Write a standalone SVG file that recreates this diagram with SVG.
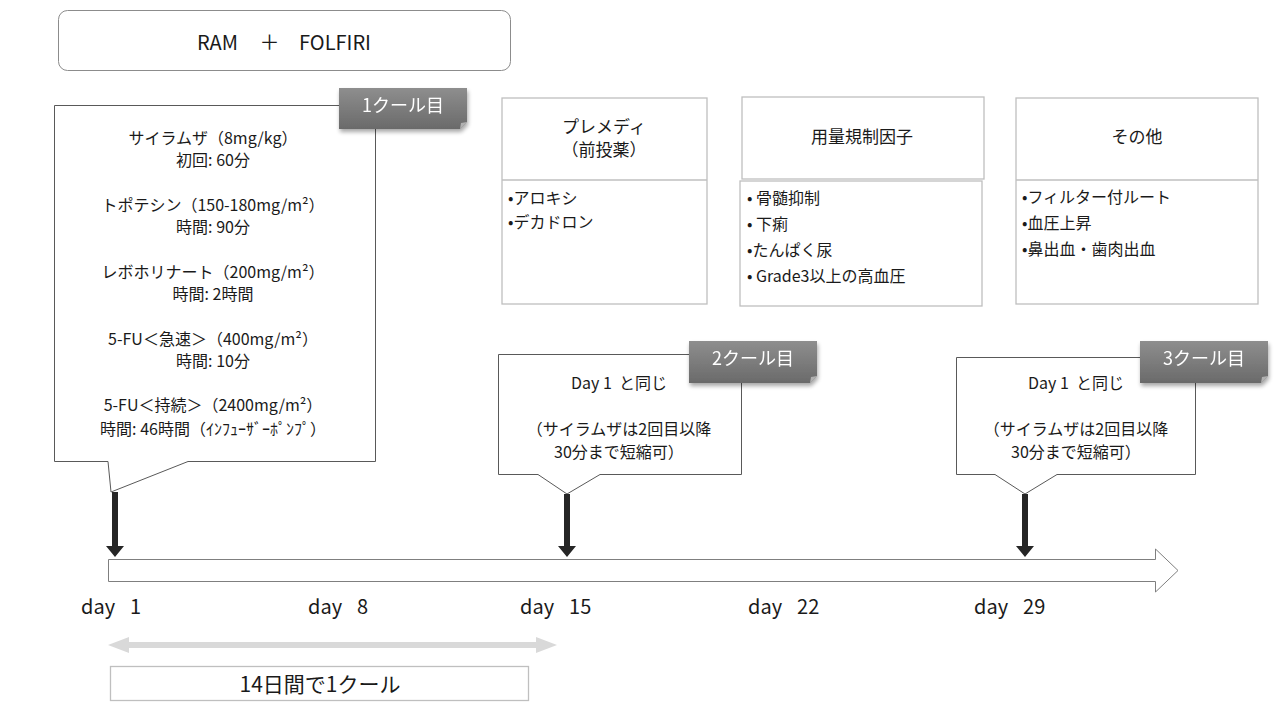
<svg xmlns="http://www.w3.org/2000/svg" width="1280" height="720" viewBox="0 0 1280 720">
<defs>
<style>
text{font-family:"Noto Sans CJK JP","Noto Sans",sans-serif;fill:#1a1a1a}
.t16{font-size:16px}
.t17{font-size:17px}
.t20{font-size:20px}
.c{text-anchor:middle}
.box{fill:#fff;stroke:#bfbfbf;stroke-width:1.3}
.call{fill:#fff;stroke:#595959;stroke-width:1}
.lbl{fill:url(#lg)}
.lblt{font-size:18px;fill:#fff;text-anchor:middle}
.dark{fill:#262626}
</style>
<linearGradient id="lg" x1="0" y1="0" x2="0" y2="1">
<stop offset="0" stop-color="#8e8e8e"/>
<stop offset="1" stop-color="#6a6a6a"/>
</linearGradient>
<filter id="sh" x="-10%" y="-10%" width="130%" height="140%">
<feGaussianBlur in="SourceAlpha" stdDeviation="2"/>
<feOffset dx="1" dy="3" result="o"/>
<feComponentTransfer><feFuncA type="linear" slope="0.35"/></feComponentTransfer>
<feMerge><feMergeNode/><feMergeNode in="SourceGraphic"/></feMerge>
</filter>
</defs>
<rect width="1280" height="720" fill="#fff"/>

<g id="title">
<rect x="58.5" y="10.5" width="452" height="60" rx="9" fill="#fff" stroke="#8c8c8c" stroke-width="1"/>
<text class="t20" x="197" y="50">RAM<tspan dx="17"> ＋ </tspan><tspan dx="15">FOLFIRI</tspan></text>
</g>

<g id="callout1">
<path class="call" d="M54.5,105.5 H375.5 V461.5 H188 L111,492 L108,461.5 H54.5 Z"/>
<g class="t16 c">
<text x="213" y="144">サイラムザ（8mg/kg）</text>
<text x="213" y="166">初回: 60分</text>
<text x="213" y="211">トポテシン（150-180mg/m²）</text>
<text x="213" y="233">時間: 90分</text>
<text x="213" y="278">レボホリナート（200mg/m²）</text>
<text x="213" y="300">時間: 2時間</text>
<text x="213" y="345">5-FU＜急速＞（400mg/m²）</text>
<text x="213" y="367">時間: 10分</text>
<text x="213" y="411">5-FU＜持続＞（2400mg/m²）</text>
<text x="213" y="435">時間: 46時間（ｲﾝﾌｭｰｻﾞｰﾎﾟﾝﾌﾟ）</text>
</g>
</g>
<g id="label1" filter="url(#sh)">
<path class="lbl" d="M339,88 H467 V122 L460,129 H339 Z"/>
<path d="M467,122 L460,129 L461,123 Z" fill="#b0b0b0"/>
<text class="lblt" x="403" y="112">1クール目</text>
</g>

<g id="premedi">
<rect class="box" x="502" y="98" width="205" height="206"/>
<line x1="502" y1="180" x2="707" y2="180" stroke="#bfbfbf" stroke-width="1.3"/>
<text class="t17 c" x="604" y="133">プレメディ</text>
<text class="t17 c" x="604" y="156">（前投薬）</text>
<text class="t16" x="508" y="204">•アロキシ</text>
<text class="t16" x="508" y="228">•デカドロン</text>
</g>

<g id="dose">
<rect class="box" x="742" y="97" width="242" height="82"/>
<text class="t17 c" x="862" y="143">用量規制因子</text>
<rect class="box" x="740" y="181" width="242" height="125"/>
<text class="t16" x="747" y="204">• 骨髄抑制</text>
<text class="t16" x="747" y="230">• 下痢</text>
<text class="t16" x="747" y="256">•たんぱく尿</text>
<text class="t16" x="747" y="282">• Grade3以上の高血圧</text>
</g>

<g id="other">
<rect class="box" x="1016" y="98" width="242" height="206"/>
<line x1="1016" y1="180" x2="1258" y2="180" stroke="#bfbfbf" stroke-width="1.3"/>
<text class="t17 c" x="1137" y="143">その他</text>
<text class="t16" x="1022" y="203">•フィルター付ルート</text>
<text class="t16" x="1022" y="229">•血圧上昇</text>
<text class="t16" x="1022" y="255">•鼻出血・歯肉出血</text>
</g>

<g id="callout2">
<path class="call" d="M498.5,354.5 H741.5 V474.5 H600 L567,494 L538,474.5 H498.5 Z"/>
<text class="t16 c" x="619" y="389" xml:space="preserve">Day 1  と同じ</text>
<text class="t16 c" x="619" y="435">（サイラムザは2回目以降</text>
<text class="t16 c" x="619" y="458">30分まで短縮可）</text>
</g>
<g id="label2" filter="url(#sh)">
<path class="lbl" d="M689,341 H817 V376 L810,383 H689 Z"/>
<path d="M817,376 L810,383 L811,377 Z" fill="#b0b0b0"/>
<text class="lblt" x="753" y="365">2クール目</text>
</g>

<g id="callout3">
<path class="call" d="M956.5,357.5 H1195.5 V474.5 H1057 L1025,494 L995,474.5 H956.5 Z"/>
<text class="t16 c" x="1076" y="389" xml:space="preserve">Day 1  と同じ</text>
<text class="t16 c" x="1076" y="435">（サイラムザは2回目以降</text>
<text class="t16 c" x="1076" y="458">30分まで短縮可）</text>
</g>
<g id="label3" filter="url(#sh)">
<path class="lbl" d="M1140,341 H1268 V376 L1261,383 H1140 Z"/>
<path d="M1268,376 L1261,383 L1262,377 Z" fill="#b0b0b0"/>
<text class="lblt" x="1204" y="365">3クール目</text>
</g>

<g id="timeline">
<path d="M108.5,559.5 H1155.5 V549 L1178,570.5 L1155.5,592 V581.5 H108.5 Z" fill="#fff" stroke="#7f7f7f" stroke-width="1"/>
</g>

<g id="connectors">
<path class="dark" d="M112,492 H118 V546 H124 L115,557 L106,546 H112 Z"/>
<path class="dark" d="M564,494 H570 V546 H576 L567,557 L558,546 H564 Z"/>
<path class="dark" d="M1022,494 H1028 V546 H1034 L1025,557 L1016,546 H1022 Z"/>
<path d="M108,645 L129,637 V642 H536 V637 L557,645 L536,653 V648 H129 V653 Z" fill="#d9d9d9"/>
</g>

<g id="days" class="t20">
<text x="81" y="614" xml:space="preserve">day  <tspan dx="6">1</tspan></text>
<text x="308" y="614" xml:space="preserve">day  <tspan dx="6">8</tspan></text>
<text x="520" y="614" xml:space="preserve">day  <tspan dx="6">15</tspan></text>
<text x="748" y="614" xml:space="preserve">day  <tspan dx="6">22</tspan></text>
<text x="974" y="614" xml:space="preserve">day  <tspan dx="6">29</tspan></text>
</g>

<g id="cycle">
<rect x="110.5" y="666.5" width="418" height="34" fill="#fff" stroke="#bfbfbf" stroke-width="1.3"/>
<text class="t20 c" x="320" y="692" style="font-size:21px">14日間で1クール</text>
</g>
</svg>
